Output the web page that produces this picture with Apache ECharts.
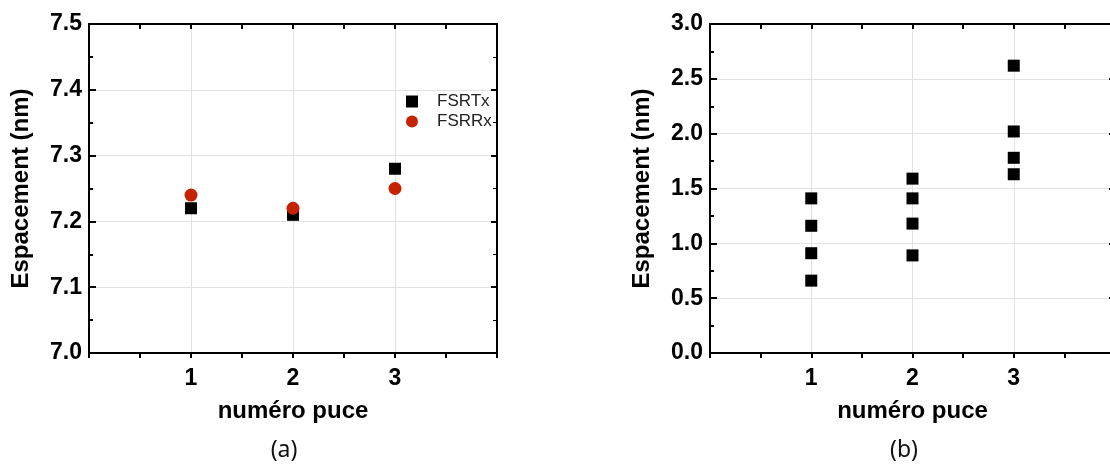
<!DOCTYPE html>
<html>
<head>
<meta charset="utf-8">
<script src="https://cdn.jsdelivr.net/npm/echarts@6/dist/echarts.min.js"></script>
<style>html,body{margin:0;padding:0;background:#fff}#c{width:1110px;height:464px}</style>
</head>
<body>
<div id="c"></div>
<script>
// ---- data ----
var chipIds = [1, 2, 3];
var fsrTx = [7.22, 7.21, 7.28];
var fsrRx = [7.24, 7.22, 7.25];
var spacingChip1 = [1.41, 1.16, 0.91, 0.66];
var spacingChip2 = [1.59, 1.41, 1.18, 0.89];
var spacingChip3 = [2.62, 2.02, 1.78, 1.63];
var yTicksA = [7.0, 7.1, 7.2, 7.3, 7.4, 7.5];
var yTicksB = [0.0, 0.5, 1.0, 1.5, 2.0, 2.5, 3.0];
var xName = 'numéro puce';
var yName = 'Espacement (nm)';
var panelLabels = ['(a)', '(b)'];

var FONT = "'Liberation Sans', Arial, sans-serif";
var chart = echarts.init(document.getElementById('c'), null, {renderer: 'canvas'});

function pairs(xs, ys) { return xs.map(function (x, i) { return [x, ys[i]]; }); }
var bPoints = [];
[spacingChip1, spacingChip2, spacingChip3].forEach(function (arr, i) {
  arr.forEach(function (v) { bPoints.push([chipIds[i], v]); });
});

var axisLine = {show: true, onZero: false, lineStyle: {color: '#000', width: 2}};
var split = {show: true, lineStyle: {color: '#e2e2e2', width: 1}};

function xBottom(gi) {
  return {
    type: 'value', gridIndex: gi, position: 'bottom', min: 0, max: 4, interval: 1,
    axisLine: axisLine,
    axisTick: {show: true, inside: false, length: 5, lineStyle: {color: '#000', width: 2}},
    minorTick: {show: true, splitNumber: 2, length: 5, lineStyle: {color: '#000', width: 2}},
    splitLine: split,
    axisLabel: {
      margin: 14, color: '#000', fontSize: 23, fontWeight: 'bold', fontFamily: FONT,
      formatter: function (v) { return chipIds.indexOf(v) >= 0 ? String(v) : ''; }
    },
    name: xName, nameLocation: 'middle', nameGap: 46,
    nameTextStyle: {color: '#000', fontSize: 24, fontWeight: 'bold', fontFamily: FONT}
  };
}
function xTop(gi) {
  return {
    type: 'value', gridIndex: gi, position: 'top', min: 0, max: 4, interval: 1,
    axisLine: axisLine,
    axisTick: {show: true, inside: true, length: 5, lineStyle: {color: '#000', width: 2}},
    minorTick: {show: true, splitNumber: 2, length: 5, lineStyle: {color: '#000', width: 2}},
    splitLine: {show: false}, axisLabel: {show: false}
  };
}
function yLeft(gi, ticks, interval) {
  return {
    type: 'value', gridIndex: gi, position: 'left',
    min: ticks[0], max: ticks[ticks.length - 1], interval: interval,
    axisLine: axisLine,
    axisTick: {show: true, inside: true, length: 7, lineStyle: {color: '#000', width: 2}},
    minorTick: {show: true, splitNumber: 2, length: 4, lineStyle: {color: '#000', width: 2}},
    splitLine: split,
    axisLabel: {
      margin: 7, color: '#000', fontSize: 23, fontWeight: 'bold', fontFamily: FONT,
      formatter: function (v) { return v.toFixed(1); }
    },
    name: yName, nameLocation: 'middle', nameGap: 56, nameRotate: 90,
    nameTextStyle: {color: '#000', fontSize: 24, fontWeight: 'bold', fontFamily: FONT}
  };
}
function yRight(gi, ticks, interval) {
  return {
    type: 'value', gridIndex: gi, position: 'right',
    min: ticks[0], max: ticks[ticks.length - 1], interval: interval,
    axisLine: axisLine,
    axisTick: {show: true, inside: true, length: 6, lineStyle: {color: '#000', width: 2}},
    minorTick: {show: true, splitNumber: 2, length: 4, lineStyle: {color: '#000', width: 1}},
    splitLine: {show: false}, axisLabel: {show: false}
  };
}

var option = {
  backgroundColor: '#fff',
  animation: false,
  title: [
    {text: panelLabels[0], left: 279, top: 434, textAlign: 'center',
     textStyle: {fontSize: 23, fontWeight: 'normal', color: '#111', fontFamily: "'Noto Sans', 'Open Sans', sans-serif"}},
    {text: panelLabels[1], left: 899, top: 434, textAlign: 'center',
     textStyle: {fontSize: 23, fontWeight: 'normal', color: '#111', fontFamily: "'Noto Sans', 'Open Sans', sans-serif"}}
  ],
  legend: {
    orient: 'vertical', left: 401, top: 88, itemWidth: 12, itemHeight: 12, itemGap: 3,
    textStyle: {fontSize: 17, color: '#222', fontFamily: FONT, padding: [0, 0, 0, 14]},
    data: [{name: 'FSRTx', icon: 'rect'}, {name: 'FSRRx', icon: 'circle'}]
  },
  grid: [
    {left: 89, top: 24, width: 408, height: 329, outerBoundsMode: 'none'},
    {left: 710, top: 24, width: 405, height: 329, outerBoundsMode: 'none'}
  ],
  xAxis: [xBottom(0), xTop(0), xBottom(1), xTop(1)],
  yAxis: [yLeft(0, yTicksA, 0.1), yRight(0, yTicksA, 0.1), yLeft(1, yTicksB, 0.5), yRight(1, yTicksB, 0.5)],
  series: [
    {name: 'FSRTx', type: 'scatter', xAxisIndex: 0, yAxisIndex: 0, symbol: 'rect', symbolSize: 12,
     itemStyle: {color: '#000', opacity: 1}, data: pairs(chipIds, fsrTx), z: 3},
    {name: 'FSRRx', type: 'scatter', xAxisIndex: 0, yAxisIndex: 0, symbol: 'circle', symbolSize: 13,
     itemStyle: {color: '#c42200', opacity: 1}, data: pairs(chipIds, fsrRx), z: 4},
    {name: 'spacingB', type: 'scatter', xAxisIndex: 2, yAxisIndex: 2, symbol: 'rect', symbolSize: 12,
     itemStyle: {color: '#000', opacity: 1}, data: bPoints, z: 3}
  ]
};
chart.setOption(option);
</script>
</body>
</html>
